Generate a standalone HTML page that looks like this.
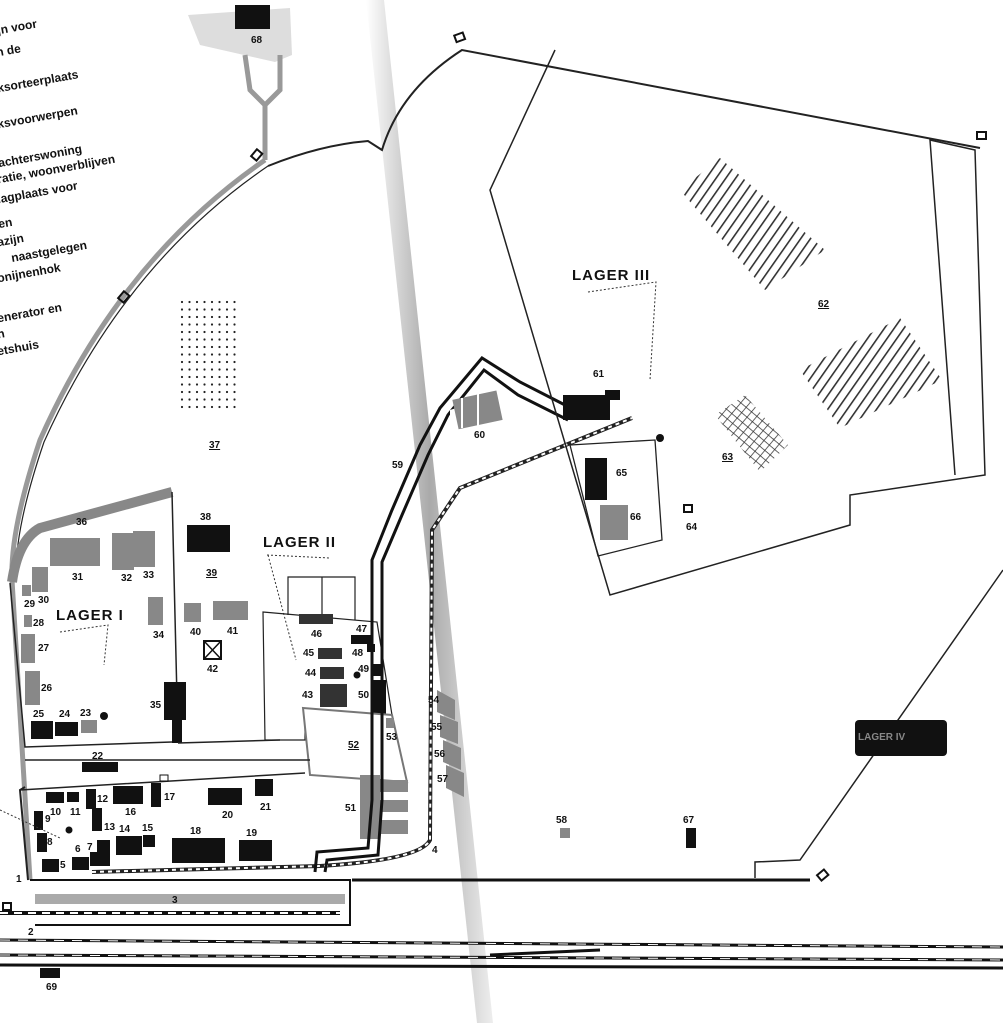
<!DOCTYPE html>
<html><head><meta charset="utf-8"><style>
html,body{margin:0;padding:0;background:#fff}
svg{display:block}
text{font-family:"Liberation Sans","DejaVu Sans",sans-serif;font-weight:bold;fill:#111}
.n{font-size:10px}
.t{font-size:12px;font-weight:normal;fill:#222}
.L{font-size:15px;letter-spacing:1px}
.b{fill:#111}
.g{fill:#888}
</style></head><body>
<svg width="1003" height="1023" viewBox="0 0 1003 1023" xmlns="http://www.w3.org/2000/svg">
<defs>
<linearGradient id="fold" x1="0" x2="1" y1="0" y2="0">
<stop offset="0" stop-color="#fff"/><stop offset="0.5" stop-color="#aaa"/><stop offset="1" stop-color="#eee"/>
</linearGradient>
<pattern id="hat" width="8" height="8" patternUnits="userSpaceOnUse" patternTransform="rotate(35)">
<rect width="1.6" height="8" fill="#333"/></pattern>
<pattern id="cross" width="7" height="7" patternUnits="userSpaceOnUse" patternTransform="rotate(40)">
<path d="M0,0H7M0,0V7" stroke="#333" stroke-width="1.5"/></pattern>
<pattern id="dots" width="7.5" height="7.5" patternUnits="userSpaceOnUse">
<circle cx="2" cy="2" r="1.1" fill="#222"/></pattern>
</defs>
<rect width="1003" height="1023" fill="#fff"/>
<polygon points="366,0 384,0 493,1023 477,1023" fill="url(#fold)"/>

<g class="t">
<text x="-2" y="34" transform="rotate(-10 0 34)">jn voor</text>
<text x="-3" y="56" transform="rotate(-10 0 56)">n de</text>
<text x="-2" y="92" transform="rotate(-10 0 92)">ksorteerplaats</text>
<text x="-2" y="128" transform="rotate(-10 0 128)">ksvoorwerpen</text>
<text x="-1" y="167" transform="rotate(-10 0 167)">achterswoning</text>
<text x="-2" y="183" transform="rotate(-10 0 183)">ratie, woonverblijven</text>
<text x="-2" y="203" transform="rotate(-10 0 203)">lagplaats voor</text>
<text x="-1" y="228" transform="rotate(-10 0 228)">en</text>
<text x="-2" y="246" transform="rotate(-10 0 246)">azijn</text>
<text x="12" y="262" transform="rotate(-10 12 262)">naastgelegen</text>
<text x="-2" y="282" transform="rotate(-10 0 282)">onijnenhok</text>
<text x="-2" y="322" transform="rotate(-10 0 322)">enerator en</text>
<text x="-2" y="338" transform="rotate(-10 0 338)">n</text>
<text x="-2" y="355" transform="rotate(-10 0 355)">etshuis</text>
</g>

<rect x="180" y="300" width="56" height="112" fill="url(#dots)"/>
<text x="209" y="448" class="n" text-decoration="underline">37</text>

<polygon points="188,15 290,8 292,55 275,62 200,45" fill="#ddd"/>
<rect x="235" y="5" width="35" height="24" class="b"/>
<text x="251" y="43" class="n">68</text>
<path d="M245,55 L250,90 L265,105 L265,160 M280,55 L280,90 L265,105" stroke="#999" stroke-width="5" fill="none"/>

<path d="M265,160 Q120,260 40,440 Q10,530 12,580 L30,880" stroke="#999" stroke-width="5" fill="none"/>
<path d="M268,166 Q124,264 44,442 Q14,530 16,580" stroke="#222" stroke-width="1.2" fill="none"/>
<path d="M268,166 Q320,145 368,141 L382,150 Q400,90 462,50 L980,148" stroke="#222" stroke-width="2" fill="none"/>
<rect x="252" y="152" width="9" height="7" fill="none" stroke="#111" stroke-width="2" transform="rotate(-50 256 155)"/>
<rect x="119" y="294" width="9" height="7" fill="none" stroke="#111" stroke-width="2" transform="rotate(-50 123 297)"/>
<rect x="455" y="34" width="9" height="7" fill="none" stroke="#111" stroke-width="2" transform="rotate(-20 459 37)"/>
<rect x="977" y="132" width="9" height="7" fill="none" stroke="#111" stroke-width="2"/>
<rect x="818" y="872" width="9" height="7" fill="none" stroke="#111" stroke-width="2" transform="rotate(-40 822 875)"/>
<rect x="3" y="903" width="8" height="7" fill="none" stroke="#111" stroke-width="2"/>

<path d="M12,582 Q18,540 40,528 L172,492" stroke="#888" stroke-width="10" fill="none"/>
<text x="76" y="525" class="n">36</text>
<path d="M10,583 L25,747 L172,742 M172,492 L178,740" stroke="#222" stroke-width="1.5" fill="none"/>
<rect x="50" y="538" width="50" height="28" class="g"/><text x="72" y="580" class="n">31</text>
<rect x="112" y="533" width="22" height="37" class="g"/><text x="121" y="581" class="n">32</text>
<rect x="133" y="531" width="22" height="36" class="g"/><text x="143" y="578" class="n">33</text>
<rect x="32" y="567" width="16" height="25" class="g"/><text x="38" y="603" class="n">30</text>
<rect x="22" y="585" width="9" height="11" class="g"/><text x="24" y="607" class="n">29</text>
<rect x="24" y="615" width="8" height="12" class="g"/><text x="33" y="626" class="n">28</text>
<rect x="21" y="634" width="14" height="29" class="g"/><text x="38" y="651" class="n">27</text>
<rect x="25" y="671" width="15" height="34" class="g"/><text x="41" y="691" class="n">26</text>
<rect x="31" y="721" width="22" height="18" class="b"/><text x="33" y="717" class="n">25</text>
<rect x="55" y="722" width="23" height="14" class="b"/><text x="59" y="717" class="n">24</text>
<rect x="81" y="720" width="16" height="13" class="g"/><text x="80" y="716" class="n">23</text>
<circle cx="104" cy="716" r="4" class="b"/>
<rect x="148" y="597" width="15" height="28" class="g"/><text x="153" y="638" class="n">34</text>
<path d="M164,682 H186 V720 H182 V743 H172 V720 H164Z" class="b"/><text x="150" y="708" class="n">35</text>
<text x="56" y="620" class="L">LAGER I</text>
<path d="M60,632 L108,625 L104,665" stroke="#333" stroke-dasharray="2,2" fill="none"/>

<rect x="187" y="525" width="43" height="27" class="b"/><text x="200" y="520" class="n">38</text>
<text x="206" y="576" class="n" text-decoration="underline">39</text>
<rect x="184" y="603" width="17" height="19" class="g"/><text x="190" y="635" class="n">40</text>
<rect x="213" y="601" width="35" height="19" class="g"/><text x="227" y="634" class="n">41</text>
<rect x="204" y="641" width="17" height="18" fill="none" stroke="#111" stroke-width="2"/>
<path d="M204,641 L221,659 M221,641 L204,659" stroke="#111" stroke-width="1.5"/>
<text x="207" y="672" class="n">42</text>
<path d="M178,743 L280,740" stroke="#222" stroke-width="1.5"/>

<text x="263" y="547" class="L">LAGER II</text>
<path d="M267,555 L330,558 M268,555 L296,660" stroke="#333" stroke-dasharray="2,2" fill="none"/>
<path d="M288,615 V577 H355 V620 M322,577 V615" stroke="#222" stroke-width="1.2" fill="none"/>
<path d="M263,612 L377,622 L392,715 L305,710 L305,740 L265,740 Z" stroke="#222" stroke-width="1.2" fill="none"/>
<rect x="299" y="614" width="34" height="10" fill="#333"/><text x="311" y="637" class="n">46</text>
<path d="M351,635 H373 V644 H375 V652 H367 V644 H351Z" class="b"/><text x="356" y="632" class="n">47</text><text x="352" y="656" class="n">48</text>
<rect x="318" y="648" width="24" height="11" fill="#333"/><text x="303" y="656" class="n">45</text>
<rect x="320" y="667" width="24" height="12" fill="#333"/><text x="305" y="676" class="n">44</text>
<rect x="320" y="684" width="27" height="23" fill="#333"/><text x="302" y="698" class="n">43</text>
<circle cx="357" cy="675" r="3.5" class="b"/>
<rect x="371" y="664" width="10" height="12" class="b"/><text x="358" y="672" class="n">49</text>
<rect x="371" y="680" width="15" height="34" class="b"/><text x="358" y="698" class="n">50</text>
<path d="M303,708 L392,715 L407,782 L310,775 Z" stroke="#777" stroke-width="2" fill="#fff"/>
<text x="348" y="748" class="n" text-decoration="underline">52</text>
<rect x="386" y="718" width="8" height="10" class="g"/><text x="386" y="740" class="n">53</text>
<path d="M360,775 H380 V780 H408 V792 H380 V800 H408 V812 H380 V820 H408 V834 H380 V839 H360Z" class="g"/>
<text x="345" y="811" class="n">51</text>

<path d="M25,760 L310,760 M20,790 L305,773" stroke="#222" stroke-width="1.5" fill="none"/>
<rect x="82" y="762" width="36" height="10" class="b"/><text x="92" y="759" class="n">22</text>
<rect x="160" y="775" width="8" height="6" fill="none" stroke="#111"/>
<rect x="46" y="792" width="18" height="11" class="b"/><text x="50" y="815" class="n">10</text>
<rect x="67" y="792" width="12" height="10" class="b"/><text x="70" y="815" class="n">11</text>
<rect x="86" y="789" width="10" height="20" class="b"/><text x="97" y="802" class="n">12</text>
<rect x="113" y="786" width="30" height="18" class="b"/><text x="125" y="815" class="n">16</text>
<rect x="151" y="783" width="10" height="24" class="b"/><text x="164" y="800" class="n">17</text>
<rect x="208" y="788" width="34" height="17" class="b"/><text x="222" y="818" class="n">20</text>
<rect x="255" y="779" width="18" height="17" class="b"/><text x="260" y="810" class="n">21</text>
<rect x="34" y="811" width="9" height="19" class="b"/><text x="45" y="822" class="n">9</text>
<rect x="37" y="833" width="10" height="19" class="b"/><text x="47" y="845" class="n">8</text>
<circle cx="69" cy="830" r="3.5" class="b"/>
<path d="M0,810 L60,838" stroke="#333" stroke-dasharray="2,2"/>
<rect x="92" y="808" width="10" height="23" class="b"/><text x="104" y="830" class="n">13</text>
<rect x="116" y="836" width="26" height="19" class="b"/><text x="119" y="832" class="n">14</text>
<rect x="143" y="835" width="12" height="12" class="b"/><text x="142" y="831" class="n">15</text>
<rect x="172" y="838" width="53" height="25" class="b"/><text x="190" y="834" class="n">18</text>
<rect x="239" y="840" width="33" height="21" class="b"/><text x="246" y="836" class="n">19</text>
<path d="M97,840 H110 V866 H90 V852 H97Z" class="b"/><text x="87" y="850" class="n">7</text>
<rect x="72" y="857" width="17" height="13" class="b"/><text x="75" y="852" class="n">6</text>
<rect x="42" y="859" width="17" height="13" class="b"/><text x="60" y="868" class="n">5</text>
<path d="M25,787 L20,790 L28,880" stroke="#222" stroke-width="2" fill="none"/>
<text x="16" y="882" class="n" font-weight="normal">1</text>

<path d="M92,872 L320,866 Q420,860 430,840 L432,530 L460,488 L632,418" stroke="#222" stroke-width="4" fill="none"/>
<path d="M92,872 L320,866 Q420,860 430,840 L432,530 L460,488 L632,418" stroke="#fff" stroke-width="2" stroke-dasharray="4,4" fill="none"/>
<text x="432" y="853" class="n" font-weight="normal">4</text>
<g stroke="#111" stroke-width="3" fill="none">
<path d="M315,872 L317,852 L368,848 L372,800 L372,560 L392,510 L420,445 L440,408 L482,358 L520,382 L565,405"/>
<path d="M325,872 L327,860 L378,855 L382,800 L382,562 L402,515 L428,455 L448,415 L484,370 L518,395 L568,420"/>
</g>
<path d="M450,410 L505,392 L505,410 L450,430Z" fill="#fff"/>
<rect x="455" y="395" width="45" height="30" class="g" transform="rotate(-12 477 410)"/>
<path d="M462,398 V428 M478,394 V426" stroke="#fff" stroke-width="2"/>
<text x="474" y="438" class="n" font-size="9">60</text>
<text x="392" y="468" class="n" font-size="9">59</text>
<g fill="#888">
<polygon points="437,690 455,700 455,720 437,712"/>
<polygon points="440,715 458,722 458,744 440,737"/>
<polygon points="443,740 461,748 461,770 443,762"/>
<polygon points="446,765 464,773 464,797 446,788"/>
</g>
<text x="428" y="703" class="n" font-size="8">54</text><text x="431" y="730" class="n" font-size="8">55</text>
<text x="434" y="757" class="n" font-size="8">56</text><text x="437" y="782" class="n" font-size="8">57</text>

<path d="M555,50 L490,190 L610,595 L850,525 L850,495 L985,475 L975,150 L930,140 L955,475" stroke="#222" stroke-width="1.5" fill="none"/>
<text x="572" y="280" class="L">LAGER III</text>
<path d="M588,292 L656,282 L650,380" stroke="#333" stroke-dasharray="2,2" fill="none"/>
<polygon points="680,190 720,158 825,250 765,290" fill="url(#hat)"/>
<polygon points="800,370 900,318 942,380 840,428" fill="url(#hat)"/>
<polygon points="715,415 745,395 788,445 760,472" fill="url(#cross)"/>
<text x="818" y="307" class="n" text-decoration="underline">62</text>
<text x="722" y="460" class="n" text-decoration="underline">63</text>
<path d="M563,395 H605 V390 H620 V400 H610 V420 H563Z" class="b"/>
<text x="593" y="377" class="n">61</text>
<path d="M570,445 L655,440 L662,540 L598,556 Z" stroke="#222" stroke-width="1.3" fill="none"/>
<rect x="585" y="458" width="22" height="42" class="b"/><text x="616" y="476" class="n">65</text>
<rect x="600" y="505" width="28" height="35" class="g"/><text x="630" y="520" class="n">66</text>
<circle cx="660" cy="438" r="4" class="b"/>
<rect x="684" y="505" width="8" height="7" fill="none" stroke="#111" stroke-width="2"/>
<text x="686" y="530" class="n">64</text>

<path d="M1003,570 L800,860 L755,862 L755,878" stroke="#222" stroke-width="1.5" fill="none"/>
<rect x="855" y="720" width="92" height="36" fill="#111" rx="4"/>
<text x="858" y="740" class="n" style="fill:#888" font-size="13">LAGER IV</text>
<rect x="560" y="828" width="10" height="10" class="g"/><text x="556" y="823" class="n">58</text>
<rect x="686" y="828" width="10" height="20" class="b"/><text x="683" y="823" class="n">67</text>

<path d="M352,880 L810,880" stroke="#111" stroke-width="3"/>
<path d="M30,880 L350,880 L350,925 L35,925" stroke="#111" stroke-width="2" fill="none"/>
<rect x="35" y="894" width="310" height="10" fill="#aaa"/><text x="172" y="903" class="n">3</text>
<path d="M0,913 L340,913" stroke="#111" stroke-width="4"/>
<path d="M0,913 L340,913" stroke="#fff" stroke-width="2" stroke-dasharray="8,6"/>
<path d="M0,940 L1003,947 M0,955 L1003,960 M0,965 L1003,968" stroke="#111" stroke-width="3"/>
<path d="M0,940 L1003,947 M0,955 L1003,960" stroke="#fff" stroke-width="1" stroke-dasharray="10,8"/>
<path d="M490,955 L600,950" stroke="#111" stroke-width="3"/>
<text x="28" y="935" class="n" font-weight="normal">2</text>
<rect x="40" y="968" width="20" height="10" class="b"/><text x="46" y="990" class="n" font-size="8">69</text>
</svg>
</body></html>
